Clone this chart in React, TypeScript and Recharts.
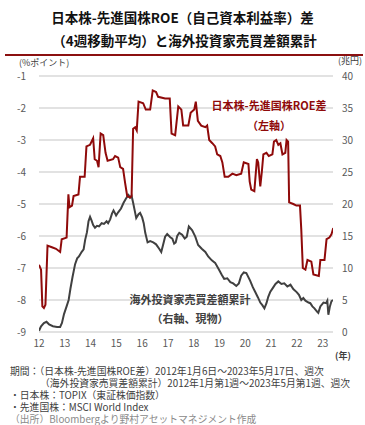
import { CartesianGrid, Line, LineChart, XAxis, YAxis } from 'recharts';

// 日本株-先進国株ROE差 (%ポイント, 左軸)
const roeYears = [
  12.0, 12.08, 12.13, 12.19, 12.25, 12.33, 12.5, 12.66, 12.82, 12.88, 13.07, 13.14, 13.18, 13.28, 13.34,
  13.53, 13.59, 13.77, 13.84, 13.98, 14.1, 14.16, 14.25, 14.31, 14.39, 14.49, 14.58, 14.66, 14.87, 14.95,
  15.07, 15.15, 15.26, 15.34, 15.42, 15.53, 15.59, 15.65, 15.73, 15.79, 15.86, 16.04, 16.14, 16.31, 16.41,
  16.54, 16.62, 16.89, 17.07, 17.14, 17.28, 17.4, 17.52, 17.59, 17.79, 17.88, 18.02, 18.08, 18.16, 18.29,
  18.45, 18.52, 18.6, 18.72, 18.83, 18.91, 19.03, 19.11, 19.2, 19.34, 19.5, 19.65, 19.84, 19.94, 20.12,
  20.17, 20.23, 20.35, 20.45, 20.5, 20.58, 20.64, 20.7, 20.82, 20.91, 21.05, 21.11, 21.2, 21.28, 21.36,
  21.44, 21.55, 21.6, 21.66, 21.7, 21.86, 21.98, 22.12, 22.17, 22.23, 22.33, 22.41, 22.56, 22.64, 22.85,
  22.91, 23.07, 23.15, 23.26, 23.34, 23.41,
];
const roeValues = [
  -6.9, -7.05, -8.2, -8.25, -8.15, -6.3, -6.35, -6.4, -6.5, -6.1, -6.05, -4.7, -5.1, -5.05, -4.75,
  -4.7, -4.15, -4.15, -3.2, -3.15, -2.95, -3.6, -3.65, -3.85, -2.8, -2.85, -3.4, -3.65, -3.6, -3.5,
  -3.55, -3.85, -3.9, -4.35, -4.75, -4.8, -4.75, -2.65, -2.6, -2.7, -1.8, -1.85, -2.05, -2.05, -1.45,
  -1.5, -1.65, -1.7, -1.7, -2.8, -2.85, -1.95, -2.05, -2.55, -2.55, -2.15, -2.05, -1.8, -2.4, -2.55,
  -2.6, -2.55, -3.0, -3.1, -3.2, -3.45, -3.5, -3.7, -4.15, -4.15, -4.05, -4.1, -4.05, -3.7, -3.75,
  -4.3, -4.55, -4.6, -3.6, -3.7, -4.45, -4.0, -3.45, -3.4, -3.5, -3.45, -3.05, -3.0, -3.15, -3.1,
  -3.45, -3.4, -3.0, -3.05, -4.95, -5.0, -5.05, -5.05, -5.8, -7.0, -7.05, -6.75, -6.8, -7.2, -7.25,
  -6.75, -6.75, -6.1, -6.05, -5.95, -5.75,
];

// 海外投資家売買差額累計 (兆円, 右軸)
const flowYears = [
  12.0, 12.08, 12.19, 12.29, 12.39, 12.54, 12.7, 12.82, 12.89, 12.97, 13.07, 13.15, 13.22, 13.3, 13.4,
  13.48, 13.55, 13.65, 13.73, 13.79, 13.86, 13.92, 13.98, 14.04, 14.1, 14.17, 14.25, 14.33, 14.43, 14.52,
  14.62, 14.68, 14.76, 14.83, 14.89, 14.99, 15.07, 15.18, 15.28, 15.38, 15.47, 15.53, 15.59, 15.65, 15.71,
  15.77, 15.86, 15.92, 16.0, 16.06, 16.12, 16.21, 16.31, 16.43, 16.54, 16.66, 16.74, 16.81, 16.89, 16.97,
  17.09, 17.17, 17.24, 17.3, 17.36, 17.44, 17.55, 17.65, 17.73, 17.81, 17.94, 18.06, 18.17, 18.31, 18.45,
  18.56, 18.7, 18.83, 18.97, 19.09, 19.18, 19.3, 19.42, 19.53, 19.65, 19.75, 19.84, 19.94, 20.04, 20.19,
  20.29, 20.39, 20.49, 20.58, 20.66, 20.74, 20.82, 20.89, 20.97, 21.07, 21.17, 21.28, 21.4, 21.51, 21.63,
  21.75, 21.86, 22.0, 22.08, 22.17, 22.25, 22.33, 22.45, 22.52, 22.6, 22.68, 22.78, 22.83, 22.91, 23.03,
  23.13, 23.18, 23.22, 23.28, 23.34, 23.4,
];
const flowValues = [
  0.2, 0.9, 1.4, 1.6, 1.2, 0.9, 0.8, 0.8, 1.4, 2.8, 4.0, 5.0, 6.8, 8.6, 10.6,
  11.5, 11.8, 12.5, 12.9, 14.4, 15.6, 17.3, 18.0, 17.4, 16.7, 16.3, 16.6, 16.5, 17.0, 16.9,
  17.3, 17.0, 17.6, 18.5, 19.0, 18.2, 18.7, 19.3, 20.2, 20.9, 21.4, 21.0, 21.3, 20.2, 19.0,
  17.8, 18.4, 18.6, 17.9, 17.0, 15.5, 14.0, 14.2, 14.0, 13.7, 13.0, 12.5, 13.6, 14.9, 15.3,
  14.8, 14.6, 13.8, 14.0, 15.0, 15.5, 15.2, 14.6, 14.9, 16.5, 15.9, 14.9, 13.6, 13.0, 12.5,
  11.8, 11.2, 10.8, 9.8, 8.9, 8.3, 8.4, 7.8, 7.6, 7.2, 7.6, 8.8, 9.3, 9.2, 8.0,
  7.0, 6.2, 5.4, 4.6, 4.2, 3.7, 4.5, 5.5, 6.3, 6.9, 7.5, 7.9, 7.5, 7.6, 7.1,
  7.4, 6.7, 6.2, 5.8, 5.0, 5.3, 4.9, 4.6, 4.5, 4.0, 3.7, 3.2, 3.0, 4.0, 4.6,
  4.5, 4.9, 2.7, 4.0, 4.8, 5.0,
];

const yearTicks = [12, 13, 14, 15, 16, 17, 18, 19, 20, 21, 22, 23];
const leftTicks = [-9, -8, -7, -6, -5, -4, -3, -2, -1];
const rightTicks = [0, 5, 10, 15, 20, 25, 30, 35, 40];

const roeData = roeYears.map((x, i) => ({ x, v: roeValues[i] }));
const flowData = flowYears.map((x, i) => ({ x, v: flowValues[i] }));

const FONT = '"Noto Sans CJK JP", "Noto Sans", sans-serif';
const RED = '#8f0a0a';
const GRAY = '#404040';
const tickStyle = { fontSize: 10, fill: '#595959', fontFamily: FONT };

const abs = (extra: React.CSSProperties): React.CSSProperties => ({
  position: 'absolute',
  whiteSpace: 'nowrap',
  fontFamily: FONT,
  ...extra,
});

const note = (left: number, top: number, color = '#404040'): React.CSSProperties =>
  abs({ left, top, fontSize: 9.8, lineHeight: '12px', color });

export default function App() {
  return (
    <div style={{ position: 'absolute', left: 0, top: 0, width: 365, height: 425, background: '#fff', fontFamily: FONT }}>
      <div style={abs({ left: 0, top: 8, width: 365, textAlign: 'center', fontSize: 13.5, lineHeight: '18px', fontWeight: 700, color: '#111' })}>
        日本株-先進国株ROE（自己資本利益率）差
      </div>
      <div style={abs({ left: 2, top: 31, width: 365, textAlign: 'center', fontSize: 13.5, lineHeight: '18px', fontWeight: 700, color: '#111' })}>
        （4週移動平均）と海外投資家売買差額累計
      </div>
      <div style={{ position: 'absolute', left: 5, top: 54, width: 358, height: 2, background: '#8b1010' }} />

      <LineChart width={365} height={425} margin={{ top: 76, right: 2, bottom: 73, left: 9 }}>
        <CartesianGrid vertical={false} stroke="#d9d9d9" strokeWidth={1.5} />
        <XAxis
          dataKey="x"
          type="number"
          domain={[12, 23.4]}
          ticks={yearTicks}
          allowDataOverflow
          height={20}
          axisLine={false}
          tickLine={false}
          tickSize={0}
          tickMargin={8}
          tick={tickStyle}
        />
        <XAxis
          xAxisId="top"
          orientation="top"
          type="number"
          domain={[12, 23.4]}
          ticks={yearTicks}
          allowDataOverflow
          height={0}
          mirror
          axisLine={false}
          tick={false}
          tickSize={3}
          tickLine={{ stroke: '#bfbfbf' }}
        />
        <YAxis
          type="number"
          domain={[-9, -1]}
          ticks={leftTicks}
          allowDataOverflow
          width={30}
          axisLine={false}
          tickLine={false}
          tickSize={0}
          tickMargin={13}
          tick={tickStyle}
        />
        <YAxis
          yAxisId="right"
          orientation="right"
          type="number"
          domain={[0, 40]}
          ticks={rightTicks}
          allowDataOverflow
          width={30}
          axisLine={false}
          tickLine={false}
          tickSize={0}
          tickMargin={9}
          tick={{ ...tickStyle, textAnchor: 'start' }}
        />
        <Line
          data={flowData}
          dataKey="v"
          yAxisId="right"
          stroke={GRAY}
          strokeWidth={2}
          dot={false}
          type="linear"
          isAnimationActive={false}
        />
        <Line
          data={roeData}
          dataKey="v"
          stroke={RED}
          strokeWidth={2}
          dot={false}
          type="linear"
          isAnimationActive={false}
        />
      </LineChart>

      <div style={abs({ left: 19, top: 57, fontSize: 9, lineHeight: '11px', color: '#404040' })}>(%ポイント)</div>
      <div style={abs({ left: 338, top: 55, fontSize: 9, lineHeight: '11px', color: '#404040' })}>(兆円)</div>
      <div style={abs({ left: 335, top: 350, fontSize: 9, lineHeight: '11px', color: '#404040', fontWeight: 700 })}>(年)</div>

      <div style={abs({ left: 269, top: 105, transform: 'translate(-50%, -50%)', fontSize: 11, fontWeight: 700, color: RED })}>
        日本株-先進国株ROE差
      </div>
      <div style={abs({ left: 269, top: 125, transform: 'translate(-50%, -50%)', fontSize: 11, fontWeight: 700, color: RED })}>
        （左軸）
      </div>
      <div style={abs({ left: 190, top: 299, transform: 'translate(-50%, -50%)', fontSize: 11, fontWeight: 700, color: GRAY })}>
        海外投資家売買差額累計
      </div>
      <div style={abs({ left: 190, top: 318, transform: 'translate(-50%, -50%)', fontSize: 11, fontWeight: 700, color: GRAY })}>
        （右軸、現物）
      </div>

      <div style={note(10, 365)}>期間：（日本株-先進国株ROE差）2012年1月6日～2023年5月17日、週次</div>
      <div style={note(40, 377)}>（海外投資家売買差額累計）2012年1月第1週～2023年5月第1週、週次</div>
      <div style={note(10, 389)}>・日本株：TOPIX（東証株価指数）</div>
      <div style={note(10, 401)}>・先進国株：MSCI World Index</div>
      <div style={note(10, 413, '#8a8a8a')}>（出所）Bloombergより野村アセットマネジメント作成</div>
    </div>
  );
}
